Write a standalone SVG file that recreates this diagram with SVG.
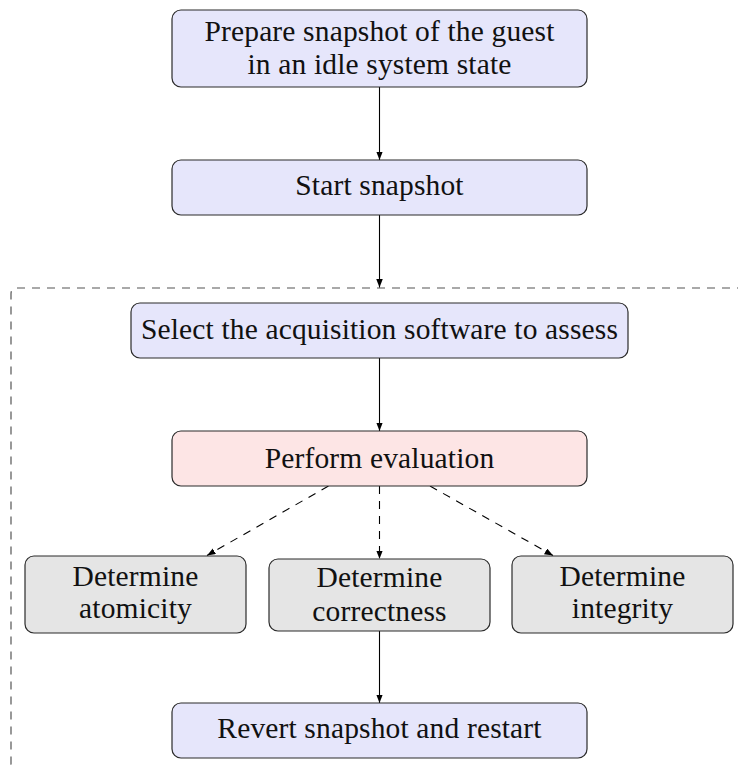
<svg xmlns="http://www.w3.org/2000/svg" width="738" height="769" viewBox="0 0 738 769">
  <style>
    .box { stroke: #2b2b2b; stroke-width: 1.2; }
    .blue { fill: #e6e6fb; }
    .red { fill: #fde5e5; }
    .gray { fill: #e5e5e5; }
    .label { font-size: 29.5px; fill: #111; text-anchor: middle; letter-spacing: 0.15px; }
    .edge { stroke: #000; stroke-width: 1.1; fill: none; }
    .dashed { stroke-dasharray: 8 7; }
    .frame { stroke: #555; stroke-width: 1.2; fill: none; stroke-dasharray: 8 7; }
  </style>
  <defs>
    <marker id="head" markerUnits="userSpaceOnUse" markerWidth="9" markerHeight="7" refX="8.5" refY="3.25" orient="auto">
      <path d="M0,0 L8.5,3.25 L0,6.5 Z" fill="#000"/>
    </marker>
  </defs>

  <rect width="738" height="769" fill="#fff"/>

  <!-- dashed frame around the evaluation loop -->
  <path class="frame" d="M 745 288 H 17 Q 11 288 11 294 V 764 Q 11 770 17 770 H 745"/>

  <g id="connectors">
    <line class="edge" x1="379.5" y1="87" x2="379.5" y2="160" marker-end="url(#head)"/>
    <line class="edge" x1="379.5" y1="215" x2="379.5" y2="287.5" marker-end="url(#head)"/>
    <line class="edge" x1="379.5" y1="358" x2="379.5" y2="431" marker-end="url(#head)"/>
    <line class="edge dashed" x1="328.5" y1="486" x2="207" y2="555.5" marker-end="url(#head)"/>
    <line class="edge dashed" x1="379.5" y1="486" x2="379.5" y2="559" marker-end="url(#head)"/>
    <line class="edge dashed" x1="430" y1="486" x2="553" y2="555.5" marker-end="url(#head)"/>
    <line class="edge" x1="379.5" y1="631" x2="379.5" y2="703" marker-end="url(#head)"/>
  </g>

  <g font-family="Liberation Serif, Times New Roman, serif">
    <g id="prepare">
      <rect class="box blue" x="172" y="10" width="415" height="77" rx="9"/>
      <text class="label" x="379.5" y="40.5">Prepare snapshot of the guest</text>
      <text class="label" x="379.5" y="74">in an idle system state</text>
    </g>

    <g id="start">
      <rect class="box blue" x="172" y="160" width="415" height="55" rx="9"/>
      <text class="label" x="379.5" y="195">Start snapshot</text>
    </g>

    <g id="select">
      <rect class="box blue" x="131" y="303" width="497" height="55" rx="9"/>
      <text class="label" x="379.5" y="338.5">Select the acquisition software to assess</text>
    </g>

    <g id="perform">
      <rect class="box red" x="172" y="431" width="415" height="55" rx="9"/>
      <text class="label" x="379.5" y="468">Perform evaluation</text>
    </g>

    <g id="atomicity">
      <rect class="box gray" x="25" y="556" width="221" height="77" rx="9"/>
      <text class="label" x="135.5" y="586">Determine</text>
      <text class="label" x="135.5" y="618">atomicity</text>
    </g>

    <g id="correctness">
      <rect class="box gray" x="269" y="559" width="221" height="72" rx="9"/>
      <text class="label" x="379.5" y="587">Determine</text>
      <text class="label" x="379.5" y="621">correctness</text>
    </g>

    <g id="integrity">
      <rect class="box gray" x="512" y="556" width="221" height="77" rx="9"/>
      <text class="label" x="622.5" y="586">Determine</text>
      <text class="label" x="622.5" y="618">integrity</text>
    </g>

    <g id="revert">
      <rect class="box blue" x="172" y="703" width="415" height="55" rx="9"/>
      <text class="label" x="379.5" y="738">Revert snapshot and restart</text>
    </g>
  </g>
</svg>
